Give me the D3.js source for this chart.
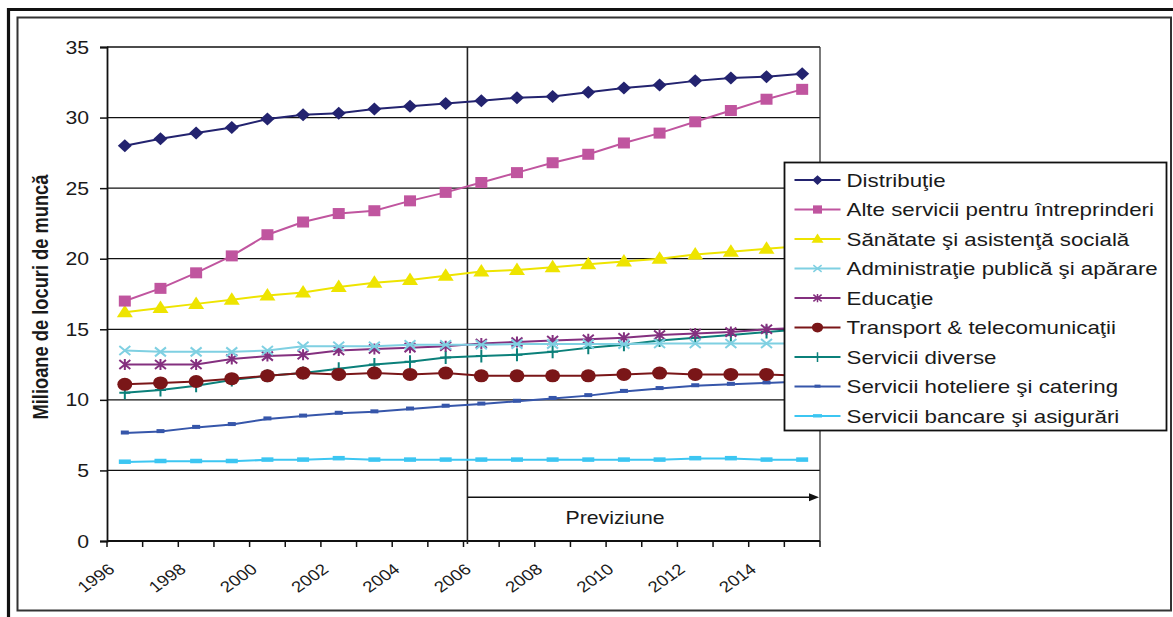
<!DOCTYPE html>
<html>
<head>
<meta charset="utf-8">
<script src="https://cdn.jsdelivr.net/npm/d3@7"></script>
<style>
  html, body { margin: 0; padding: 0; background: #fff; }
  svg { display: block; }
  text { font-family: "Liberation Sans", Arial, sans-serif; fill: #1a1a1a; }
</style>
</head>
<body>
<svg id="chart" width="1173" height="617"></svg>
<script>
// Employment by service sector, millions of jobs, 1996–2015 (2006 onward is the forecast)
const years = ["1996","1997","1998","1999","2000","2001","2002","2003","2004","2005",
               "2006","2007","2008","2009","2010","2011","2012","2013","2014","2015"];
const xTickLabels = ["1996","1998","2000","2002","2004","2006","2008","2010","2012","2014"];
const yTicks = [0, 5, 10, 15, 20, 25, 30, 35];
const forecastStart = "2006";
const forecastLabel = "Previziune";
const yTitle = "Milioane de locuri de muncă";

const seriesNames = [
  "Distribuţie",
  "Alte servicii pentru întreprinderi",
  "Sănătate şi asistenţă socială",
  "Administraţie publică şi apărare",
  "Educaţie",
  "Transport & telecomunicaţii",
  "Servicii diverse",
  "Servicii hoteliere şi catering",
  "Servicii bancare şi asigurări"
];

const distributie = [28.0, 28.5, 28.9, 29.3, 29.9, 30.2, 30.3, 30.6, 30.8, 31.0,
                     31.2, 31.4, 31.5, 31.8, 32.1, 32.3, 32.6, 32.8, 32.9, 33.1];
const alteServicii = [17.0, 17.9, 19.0, 20.2, 21.7, 22.6, 23.2, 23.4, 24.1, 24.7,
                      25.4, 26.1, 26.8, 27.4, 28.2, 28.9, 29.7, 30.5, 31.3, 32.0];
const sanatate = [16.2, 16.5, 16.8, 17.1, 17.4, 17.6, 18.0, 18.3, 18.5, 18.8,
                  19.1, 19.2, 19.4, 19.6, 19.8, 20.0, 20.3, 20.5, 20.7, 20.9];
const administratie = [13.5, 13.4, 13.4, 13.4, 13.5, 13.8, 13.8, 13.8, 13.9, 13.9,
                       13.9, 13.95, 13.95, 13.95, 13.95, 14.0, 14.0, 14.0, 14.0, 14.0];
const educatie = [12.5, 12.5, 12.5, 12.9, 13.1, 13.2, 13.5, 13.6, 13.7, 13.8,
                  14.0, 14.1, 14.2, 14.3, 14.4, 14.6, 14.7, 14.8, 15.0, 15.1];
const transport = [11.1, 11.2, 11.3, 11.5, 11.7, 11.9, 11.8, 11.9, 11.8, 11.9,
                   11.7, 11.7, 11.7, 11.7, 11.8, 11.9, 11.8, 11.8, 11.8, 11.7];
const diverse = [10.5, 10.7, 11.0, 11.4, 11.7, 11.9, 12.2, 12.5, 12.7, 13.0,
                 13.1, 13.2, 13.4, 13.7, 13.9, 14.2, 14.4, 14.6, 14.8, 15.0];
const hoteliere = [7.65, 7.75, 8.05, 8.25, 8.65, 8.85, 9.05, 9.15, 9.35, 9.55,
                   9.7, 9.9, 10.1, 10.3, 10.6, 10.8, 11.0, 11.1, 11.2, 11.3];
const bancare = [5.6, 5.65, 5.65, 5.65, 5.75, 5.75, 5.85, 5.75, 5.75, 5.75,
                 5.75, 5.75, 5.75, 5.75, 5.75, 5.75, 5.85, 5.85, 5.75, 5.75];

const seriesValues = [distributie, alteServicii, sanatate, administratie, educatie,
                      transport, diverse, hoteliere, bancare];
const seriesColors = ["#23236f", "#c0559f", "#eee400", "#7fd0e2", "#84307f",
                      "#7a1618", "#0b807a", "#3656aa", "#3cc6f2"];
const seriesMarkers = ["diamond", "square", "triangle", "cross", "asterisk",
                       "circle", "plus", "dash", "wideDash"];

const series = seriesNames.map((name, i) => ({
  name, values: seriesValues[i], color: seriesColors[i], marker: seriesMarkers[i]
}));

// ---- layout ----
const SX = 1.18;           // horizontal stretch applied to text glyphs
const plot = { left: 107, right: 820, top: 47, bottom: 541 };

const svg = d3.select("#chart");

// outer frame
svg.append("path")
  .attr("d", "M8.5,617 L8.5,9.5 L1173,9.5")
  .attr("fill", "none").attr("stroke", "#111").attr("stroke-width", 3.2);
svg.append("rect")
  .attr("x", 17.5).attr("y", 17.5).attr("width", 1153.5).attr("height", 593)
  .attr("fill", "none").attr("stroke", "#333").attr("stroke-width", 2);

const x = d3.scaleBand().domain(years).range([plot.left, plot.right]).paddingInner(0).paddingOuter(0);
const y = d3.scaleLinear().domain([0, 35]).range([plot.bottom, plot.top]);
const cx = yr => x(yr) + x.bandwidth() / 2;

function stretchedText(parent, px, py, str, opts = {}) {
  const rot = opts.rotate ? ` rotate(${opts.rotate})` : "";
  return parent.append("text")
    .attr("transform", `translate(${px},${py}) scale(${opts.sx || SX},1)${rot}`)
    .attr("text-anchor", opts.anchor || "start")
    .attr("font-size", opts.size || 17)
    .attr("font-weight", opts.weight || "normal")
    .text(str);
}

// horizontal gridlines
svg.append("g").selectAll("line").data(yTicks.filter(v => v > 0)).join("line")
  .attr("x1", plot.left).attr("x2", plot.right)
  .attr("y1", d => y(d)).attr("y2", d => y(d))
  .attr("stroke", "#111").attr("stroke-width", 1.3);

// plot area right border
svg.append("line")
  .attr("x1", plot.right).attr("x2", plot.right)
  .attr("y1", plot.top).attr("y2", plot.bottom)
  .attr("stroke", "#333").attr("stroke-width", 1.3);

// y axis
const yAxis = svg.append("g").attr("transform", `translate(${plot.left},0)`)
  .call(d3.axisLeft(y).tickValues(yTicks).tickSize(7).tickFormat(""));
yAxis.selectAll("path.domain").attr("stroke", "#111").attr("stroke-width", 1.8);
yAxis.selectAll(".tick line").attr("stroke", "#111").attr("stroke-width", 1.5);
yTicks.forEach(v => {
  stretchedText(svg, 89, y(v) + 6.5, String(v), { anchor: "end", size: 18 });
});

// x axis with ticks at category boundaries
const xAxis = svg.append("g").attr("transform", `translate(0,${plot.bottom})`);
xAxis.append("line").attr("x1", plot.left).attr("x2", plot.right)
  .attr("stroke", "#111").attr("stroke-width", 1.8);
const boundaries = years.map(yr => x(yr)).concat([x(years[years.length - 1]) + x.bandwidth()]);
xAxis.selectAll("line.tick").data(boundaries).join("line").attr("class", "tick")
  .attr("x1", d => d).attr("x2", d => d).attr("y1", 0).attr("y2", 6)
  .attr("stroke", "#111").attr("stroke-width", 1.5);
xTickLabels.forEach(lbl => {
  stretchedText(svg, cx(lbl) - 9, plot.bottom + 30, lbl,
    { anchor: "end", size: 15.5, rotate: -40, sx: 1.2 });
});

// y axis title
stretchedText(svg, 48, (plot.top + plot.bottom) / 2 + 3, yTitle,
  { anchor: "middle", size: 18.3, weight: "bold", rotate: -90 });

// forecast divider, arrow and label
const fx = x(forecastStart) + x.bandwidth() * 0.11;
svg.append("line").attr("x1", fx).attr("x2", fx).attr("y1", plot.top).attr("y2", plot.bottom + 3)
  .attr("stroke", "#222").attr("stroke-width", 1.6);
const arrowY = y(3.1);
svg.append("line").attr("x1", fx).attr("x2", plot.right - 8).attr("y1", arrowY).attr("y2", arrowY)
  .attr("stroke", "#111").attr("stroke-width", 1.6);
svg.append("path")
  .attr("d", `M${plot.right - 1},${arrowY} L${plot.right - 11},${arrowY - 4} L${plot.right - 11},${arrowY + 4} Z`)
  .attr("fill", "#111");
stretchedText(svg, x("2010") + 9, y(1.2), forecastLabel, { anchor: "middle", size: 18 });

// ---- markers ----
function drawMarker(g, type, color, px, py, k = 1) {
  const m = g.append("g").attr("transform", `translate(${px},${py}) scale(${k})`);
  switch (type) {
    case "diamond":
      m.append("path").attr("d", "M0,-6.5 L7,0 L0,6.5 L-7,0 Z").attr("fill", color);
      break;
    case "square":
      m.append("rect").attr("x", -6).attr("y", -5.5).attr("width", 12).attr("height", 11).attr("fill", color);
      break;
    case "triangle":
      m.append("path").attr("d", "M0,-7.5 L8,5 L-8,5 Z").attr("fill", color);
      break;
    case "cross":
      m.append("path").attr("d", "M-5.5,-4.5 L5.5,4.5 M-5.5,4.5 L5.5,-4.5")
        .attr("stroke", color).attr("stroke-width", 2).attr("fill", "none");
      break;
    case "asterisk":
      m.append("path").attr("d", "M-5.5,-4.5 L5.5,4.5 M-5.5,4.5 L5.5,-4.5 M0,-5.5 L0,5.5")
        .attr("stroke", color).attr("stroke-width", 2).attr("fill", "none");
      break;
    case "circle":
      m.append("ellipse").attr("rx", 7.5).attr("ry", 6.5).attr("fill", color);
      break;
    case "plus":
      m.append("path").attr("d", "M-5.5,0 L5.5,0 M0,-6.5 L0,6.5")
        .attr("stroke", color).attr("stroke-width", 2).attr("fill", "none");
      break;
    case "dash":
      m.append("rect").attr("x", -4).attr("y", -2.5).attr("width", 8).attr("height", 4).attr("fill", color);
      break;
    case "wideDash":
      m.append("rect").attr("x", -6).attr("y", -2.5).attr("width", 12).attr("height", 4.5).attr("fill", color);
      break;
  }
}

// draw series from the end of the list so the first series sits on top
const line = d3.line().x((d, i) => cx(years[i])).y(d => y(d));
const seriesG = svg.append("g");
series.slice().reverse().forEach(s => {
  const g = seriesG.append("g");
  g.append("path").attr("d", line(s.values))
    .attr("fill", "none").attr("stroke", s.color).attr("stroke-width", 2);
  s.values.forEach((v, i) => drawMarker(g, s.marker, s.color, cx(years[i]), y(v)));
});

// ---- legend ----
const legend = { left: 784.5, top: 162.5, width: 382, height: 268, rowH: 29.5, firstRow: 180 };
const lg = svg.append("g");
lg.append("rect").attr("x", legend.left).attr("y", legend.top)
  .attr("width", legend.width).attr("height", legend.height)
  .attr("fill", "#fff").attr("stroke", "#111").attr("stroke-width", 1.8);
series.forEach((s, i) => {
  const ry = legend.firstRow + i * legend.rowH;
  lg.append("line").attr("x1", legend.left + 10).attr("x2", legend.left + 56)
    .attr("y1", ry).attr("y2", ry).attr("stroke", s.color).attr("stroke-width", 2);
  drawMarker(lg, s.marker, s.color, legend.left + 33, ry, 0.75);
  stretchedText(lg, legend.left + 62, ry + 6.5, s.name, { size: 18, sx: 1.24 });
});
</script>
</body>
</html>
